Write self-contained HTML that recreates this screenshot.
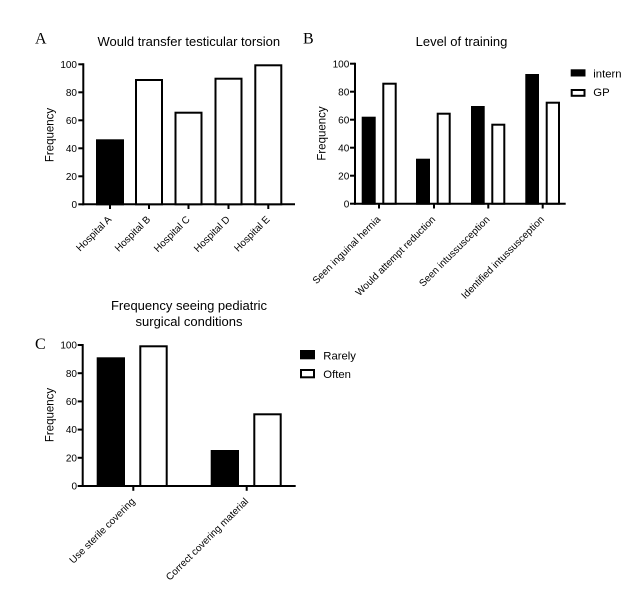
<!DOCTYPE html>
<html><head><meta charset="utf-8"><style>
html,body{margin:0;padding:0;background:#fff;}
svg{display:block;}
text{font-family:"Liberation Sans",Arial,sans-serif;fill:#000;}
.s{font-family:"Liberation Serif","Times New Roman",serif;font-size:16px;}
.t{font-size:13px;}
.tk{font-size:10px;}
.yl{font-size:11.5px;}
.lg{font-size:11.3px;}
</style></head><body>
<svg width="639" height="601" viewBox="0 0 639 601" xmlns="http://www.w3.org/2000/svg">
<rect width="639" height="601" fill="#fff"/>
<!-- Panel A -->
<text class="s" x="35" y="43.3">A</text>
<text class="t" x="188.8" y="46" text-anchor="middle">Would transfer testicular torsion</text>
<text class="yl" transform="translate(53.3,135) rotate(-90)" text-anchor="middle">Frequency</text>
<g stroke="#000" stroke-width="2" fill="none">
<line x1="83.3" y1="63.3" x2="83.3" y2="205.3"/>
<line x1="82.3" y1="204.3" x2="295" y2="204.3"/>
<line x1="78.3" y1="64.3" x2="83.3" y2="64.3"/>
<line x1="78.3" y1="92.3" x2="83.3" y2="92.3"/>
<line x1="78.3" y1="120.3" x2="83.3" y2="120.3"/>
<line x1="78.3" y1="148.3" x2="83.3" y2="148.3"/>
<line x1="78.3" y1="176.3" x2="83.3" y2="176.3"/>
<line x1="78.3" y1="204.3" x2="83.3" y2="204.3"/>
<line x1="110" y1="204.3" x2="110" y2="209"/>
<line x1="149" y1="204.3" x2="149" y2="209"/>
<line x1="188.5" y1="204.3" x2="188.5" y2="209"/>
<line x1="228.5" y1="204.3" x2="228.5" y2="209"/>
<line x1="268.3" y1="204.3" x2="268.3" y2="209"/>
</g>
<g class="tk" text-anchor="end">
<text class="tk" x="77" y="67.9">100</text>
<text class="tk" x="77" y="95.9">80</text>
<text class="tk" x="77" y="123.9">60</text>
<text class="tk" x="77" y="151.9">40</text>
<text class="tk" x="77" y="179.9">20</text>
<text class="tk" x="77" y="207.9">0</text>
</g>
<g stroke="#000" stroke-width="2">
<rect x="97" y="140.3" width="26" height="64" fill="#000"/>
<rect x="136" y="80" width="26" height="124.3" fill="#fff"/>
<rect x="175.5" y="112.7" width="26" height="91.6" fill="#fff"/>
<rect x="215.5" y="78.7" width="26" height="125.6" fill="#fff"/>
<rect x="255.3" y="65.3" width="26" height="139" fill="#fff"/>
</g>
<g class="tk" text-anchor="end">
<text class="tk" transform="translate(112,220) rotate(-45)">Hospital A</text>
<text class="tk" transform="translate(151,220) rotate(-45)">Hospital B</text>
<text class="tk" transform="translate(190.5,220) rotate(-45)">Hospital C</text>
<text class="tk" transform="translate(230.5,220) rotate(-45)">Hospital D</text>
<text class="tk" transform="translate(270.3,220) rotate(-45)">Hospital E</text>
</g>

<!-- Panel B -->
<text class="s" x="303" y="43.3">B</text>
<text class="t" x="461.5" y="46" text-anchor="middle">Level of training</text>
<text class="yl" transform="translate(325.5,133.5) rotate(-90)" text-anchor="middle">Frequency</text>
<g stroke="#000" stroke-width="2" fill="none">
<line x1="355" y1="62.7" x2="355" y2="204.7"/>
<line x1="354" y1="203.7" x2="565.7" y2="203.7"/>
<line x1="350" y1="63.7" x2="355" y2="63.7"/>
<line x1="350" y1="91.7" x2="355" y2="91.7"/>
<line x1="350" y1="119.7" x2="355" y2="119.7"/>
<line x1="350" y1="147.7" x2="355" y2="147.7"/>
<line x1="350" y1="175.7" x2="355" y2="175.7"/>
<line x1="350" y1="203.7" x2="355" y2="203.7"/>
<line x1="379" y1="203.7" x2="379" y2="208.5"/>
<line x1="434" y1="203.7" x2="434" y2="208.5"/>
<line x1="488.3" y1="203.7" x2="488.3" y2="208.5"/>
<line x1="542.7" y1="203.7" x2="542.7" y2="208.5"/>
</g>
<g text-anchor="end">
<text class="tk" x="349.3" y="67.3">100</text>
<text class="tk" x="349.3" y="95.3">80</text>
<text class="tk" x="349.3" y="123.3">60</text>
<text class="tk" x="349.3" y="151.3">40</text>
<text class="tk" x="349.3" y="179.3">20</text>
<text class="tk" x="349.3" y="207.3">0</text>
</g>
<g stroke="#000" stroke-width="2">
<rect x="362.7" y="117.7" width="12" height="86" fill="#000"/>
<rect x="383.3" y="83.7" width="12.4" height="120" fill="#fff"/>
<rect x="417" y="159.7" width="12" height="44" fill="#000"/>
<rect x="437.7" y="113.7" width="12" height="90" fill="#fff"/>
<rect x="472" y="107" width="11.7" height="96.7" fill="#000"/>
<rect x="492.3" y="124.7" width="12" height="79" fill="#fff"/>
<rect x="526.3" y="75" width="11.7" height="128.7" fill="#000"/>
<rect x="546.7" y="102.7" width="12.3" height="101" fill="#fff"/>
</g>
<g text-anchor="end">
<text class="tk" transform="translate(381,220) rotate(-45)">Seen inguinal hernia</text>
<text class="tk" transform="translate(436,220) rotate(-45)">Would attempt reduction</text>
<text class="tk" transform="translate(490.3,220) rotate(-45)">Seen intussusception</text>
<text class="tk" transform="translate(544.7,220) rotate(-45)">Identified intussusception</text>
</g>
<rect x="570.7" y="69.3" width="14.8" height="7.2" fill="#000"/>
<rect x="571.7" y="90" width="12.8" height="5.8" fill="#fff" stroke="#000" stroke-width="2"/>
<text class="lg" x="593.3" y="77.3">intern</text>
<text class="lg" x="593.3" y="96">GP</text>

<!-- Panel C -->
<text class="t" x="189" y="310" text-anchor="middle">Frequency seeing pediatric</text>
<text class="t" x="189" y="326" text-anchor="middle">surgical conditions</text>
<text class="s" x="35" y="349">C</text>
<text class="yl" transform="translate(53.3,415) rotate(-90)" text-anchor="middle">Frequency</text>
<g stroke="#000" stroke-width="2" fill="none">
<line x1="82.7" y1="344" x2="82.7" y2="487"/>
<line x1="81.7" y1="486" x2="295.7" y2="486"/>
<line x1="77.7" y1="345" x2="82.7" y2="345"/>
<line x1="77.7" y1="373.2" x2="82.7" y2="373.2"/>
<line x1="77.7" y1="401.4" x2="82.7" y2="401.4"/>
<line x1="77.7" y1="429.6" x2="82.7" y2="429.6"/>
<line x1="77.7" y1="457.8" x2="82.7" y2="457.8"/>
<line x1="77.7" y1="486" x2="82.7" y2="486"/>
<line x1="133.3" y1="486" x2="133.3" y2="490.8"/>
<line x1="246.7" y1="486" x2="246.7" y2="490.8"/>
</g>
<g text-anchor="end">
<text class="tk" x="77" y="348.6">100</text>
<text class="tk" x="77" y="376.8">80</text>
<text class="tk" x="77" y="405">60</text>
<text class="tk" x="77" y="433.2">40</text>
<text class="tk" x="77" y="461.4">20</text>
<text class="tk" x="77" y="489.6">0</text>
</g>
<g stroke="#000" stroke-width="2">
<rect x="97.7" y="358.3" width="26.3" height="127.7" fill="#000"/>
<rect x="140.3" y="346.3" width="26.4" height="139.7" fill="#fff"/>
<rect x="211.7" y="451" width="26.3" height="35" fill="#000"/>
<rect x="254.3" y="414.3" width="26.4" height="71.7" fill="#fff"/>
</g>
<g text-anchor="end">
<text class="tk" transform="translate(135.5,502) rotate(-45)">Use sterile covering</text>
<text class="tk" transform="translate(248.9,502) rotate(-45)">Correct covering material</text>
</g>
<rect x="300" y="350" width="15" height="9.3" fill="#000"/>
<rect x="301" y="370" width="13" height="7.3" fill="#fff" stroke="#000" stroke-width="2"/>
<text class="lg" x="323.3" y="359.3">Rarely</text>
<text class="lg" x="323.3" y="378">Often</text>
</svg>
</body></html>
